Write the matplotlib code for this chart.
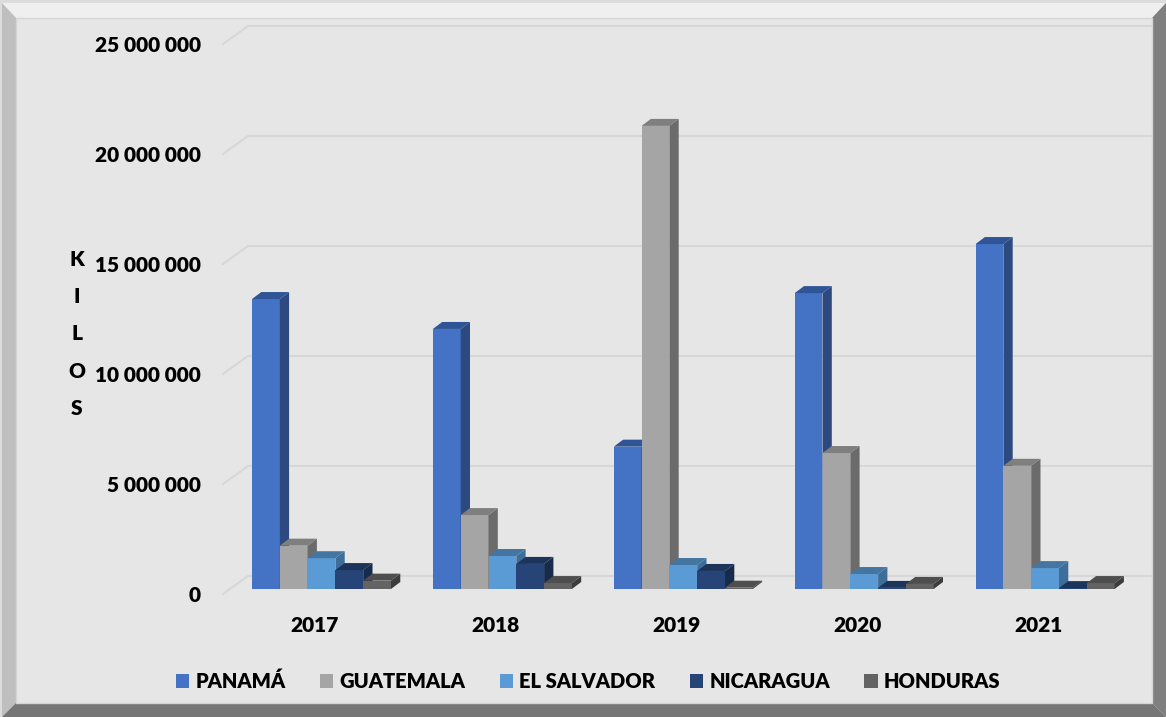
import matplotlib
matplotlib.use("Agg")
import matplotlib.pyplot as plt
from matplotlib.patches import Polygon, Patch

plt.rcParams['font.family'] = ['Lato', 'DejaVu Sans']
plt.rcParams['font.weight'] = 'heavy'

# ---- data (kilos) ----
years = ["2017", "2018", "2019", "2020", "2021"]
countries = ["PANAMÁ", "GUATEMALA", "EL SALVADOR", "NICARAGUA", "HONDURAS"]
panama      = [13180000, 11820000, 6470000, 13450000, 15680000]
guatemala   = [1970000, 3360000, 21050000, 6180000, 5600000]
el_salvador = [1400000, 1500000, 1090000, 680000, 950000]
nicaragua   = [860000, 1140000, 820000, 50000, 40000]
honduras    = [380000, 270000, 60000, 230000, 270000]
series = [panama, guatemala, el_salvador, nicaragua, honduras]
yticks = [0, 5000000, 10000000, 15000000, 20000000, 25000000]
ytick_labels = ["0", "5 000 000", "10 000 000", "15 000 000", "20 000 000", "25 000 000"]

front = ["#4472C4", "#A5A5A5", "#5B9BD5", "#264478", "#636363"]
side  = ["#2C4A80", "#6B6B6B", "#3D6E99", "#172B4D", "#3C3C3C"]
top   = ["#2F5597", "#7F7F7F", "#4476A1", "#1C335A", "#4E4E4E"]

W, H = 1166, 717
fig = plt.figure(figsize=(W/100, H/100), dpi=100)
fig.patch.set_facecolor("#dcdcdc")

def fp(pts):
    return [(x/W, 1 - y/H) for x, y in pts]

# beveled frame
for pts, c in [
    ([(2, 3), (1166, 3), (1166, 717), (2, 717)], "#e6e6e6"),
    ([(2, 3), (1166, 3), (1152, 18), (16, 18)], "#efefef"),
    ([(2, 3), (16, 18), (16, 703), (2, 717)], "#bfbfbf"),
    ([(1166, 3), (1166, 717), (1152, 703), (1152, 18)], "#7f7f7f"),
    ([(2, 717), (1166, 717), (1152, 703), (16, 703)], "#767676"),
]:
    fig.add_artist(Polygon(fp(pts), closed=True, facecolor=c, edgecolor="none",
                           transform=fig.transFigure, zorder=0))
fig.add_artist(Polygon(fp([(16, 18), (1152, 18), (1152, 703), (16, 703)]), closed=True,
                       facecolor="none", edgecolor="#d6d6d6", lw=1,
                       transform=fig.transFigure, zorder=0))

# axes: x spans px 223..1151, y spans px 600..20 ; 22 px per million
ax = fig.add_axes([223/W, (H-600)/H, 928/W, 580/H])
ax.patch.set_alpha(0)
ax.axis("off")
PXY = 1e6/22          # kilos per pixel
PXX = 1/180.9         # category units per pixel
ax.set_xlim(-98.5*PXX, 829.5*PXX)
ax.set_ylim(-11*PXY, 569*PXY)

# back wall gridlines with floor diagonal
x0, xb, x1 = -98.5*PXX, -73.5*PXX, 829.5*PXX
for v, lab in zip(yticks, ytick_labels):
    ax.plot([x0, xb, x1], [v - 5*PXY, v + 13*PXY, v + 13*PXY],
            color="#d7d7d7", lw=1.5, zorder=1, clip_on=False)
    ax.text(x0 - 22*PXX, v - 6*PXY, lab, ha="right", va="center",
            fontsize=15, color="black")

bw = 27.8*PXX
ddx, ddy = 9.3*PXX, 7*PXY
for k, vals in enumerate(series):
    for i, v in enumerate(vals):
        xc = i + (k - 2)*bw
        xl, xr = xc - bw/2, xc + bw/2
        zz = 2 + k*3
        ax.bar(xc, v, width=bw, color=front[k], zorder=zz, linewidth=0)
        ax.add_patch(Polygon([(xr, 0), (xr + ddx, ddy), (xr + ddx, v + ddy), (xr, v)],
                             closed=True, facecolor=side[k], edgecolor="none", zorder=zz + 1))
        ax.add_patch(Polygon([(xl, v), (xl + ddx, v + ddy), (xr + ddx, v + ddy), (xr, v)],
                             closed=True, facecolor=top[k], edgecolor="none", zorder=zz + 1))

for i, yr in enumerate(years):
    ax.text(i - 6.5*PXX, -36*PXY, yr, ha="center", va="center",
            fontsize=15, color="black")

fig.text(77/W, 1 - 334/H, "K\nI\nL\nO\nS", ha="center", va="center",
         fontsize=15, linespacing=2.15)

handles = [Patch(facecolor=c, edgecolor="none") for c in front]
fig.legend(handles, countries, loc="center", bbox_to_anchor=(588/W, 1 - 681/H),
           ncol=5, frameon=False, handlelength=0.68, handleheight=0.68,
           handletextpad=0.3, columnspacing=1.7, prop={"weight": "heavy", "size": 14.5})

fig.savefig("out.png", dpi=100, facecolor=fig.get_facecolor())
